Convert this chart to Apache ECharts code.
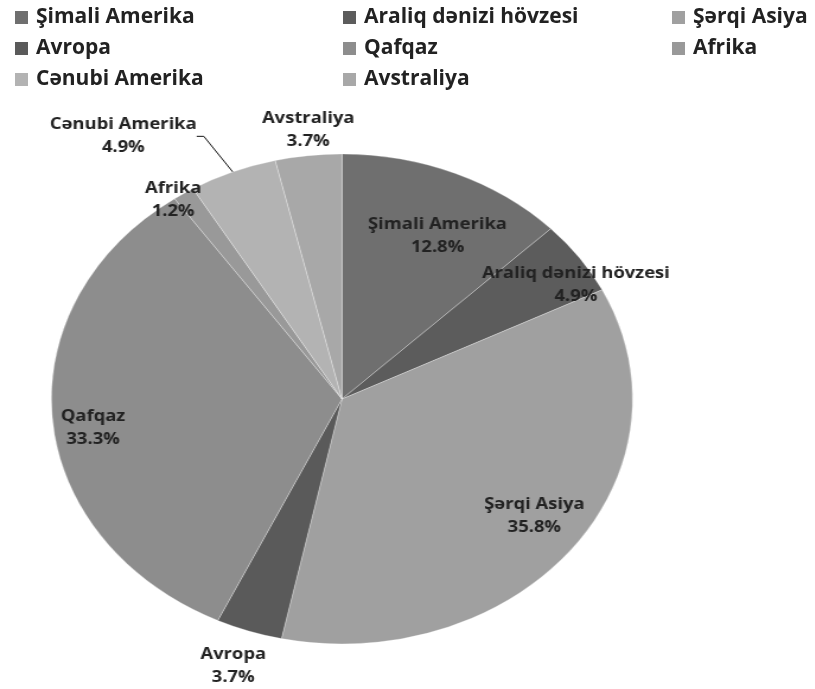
<!DOCTYPE html>
<html>
<head>
<meta charset="utf-8">
<script src="https://cdn.jsdelivr.net/npm/echarts@6/dist/echarts.min.js"></script>
<style>
html,body{margin:0;padding:0;background:#fff;overflow:hidden;width:815px;height:689px;}
#leg{position:absolute;left:0;top:0;width:815px;height:689px;}
#pie{position:absolute;left:0;top:0;width:688px;height:689px;transform:scaleX(1.186);transform-origin:0 0;}
</style>
</head>
<body>
<div id="leg"></div>
<div id="pie"></div>
<script>
// ---- data ----
const categories = ['Şimali Amerika', 'Araliq dənizi hövzesi', 'Şərqi Asiya', 'Avropa', 'Qafqaz', 'Afrika', 'Cənubi Amerika', 'Avstraliya'];
const values = [12.8, 4.9, 35.8, 3.7, 33.3, 1.2, 4.9, 3.7];
const legendCol1 = ['Şimali Amerika', 'Avropa', 'Cənubi Amerika'];
const legendCol2 = ['Araliq dənizi hövzesi', 'Qafqaz', 'Avstraliya'];
const legendCol3 = ['Şərqi Asiya', 'Afrika'];

// ---- styles ----
const colors = ['#6f6f6f', '#5c5c5c', '#a0a0a0', '#5a5a5a', '#8d8d8d', '#999999', '#b3b3b3', '#a8a8a8'];
// label placement: [radius factor, angle shift in degrees] relative to slice mid-angle
const labelPlace = [[0.74, 3.4], [0.93, 5.2], [0.816, -2], [1.152, 0.3], [0.865, -3], [1.0, -2.5], [1.31, -13], [1.104, 0.6]];
const SX = 1.186;
const CX = 342 / SX, CY = 399, R = 245;
const FONT = "'Open Sans', 'DejaVu Sans', sans-serif";

const total = values.reduce((a, b) => a + b, 0);
const midAngles = [];
{ let cum = 0; values.forEach(v => { midAngles.push((cum + v / 2) / total * 360); cum += v; }); }

const dataItems = categories.map((name, i) => {
  const item = { name: name, value: values[i], itemStyle: { color: colors[i] } };
  if (name === 'Cənubi Amerika') {
    item.label = { position: 'outside' };
    item.labelLine = { show: true, length: 40, length2: 6, lineStyle: { color: '#111', width: 1 } };
  }
  return item;
});

// ---- legend chart (unscaled) ----
const legChart = echarts.init(document.getElementById('leg'), null, { renderer: 'canvas' });
const legText = { fontFamily: FONT, fontWeight: 'bold', fontSize: 21, lineHeight: 20, color: '#222', padding: [0, 0, 0, 3] };
function mkLegend(data, left) {
  return { data: data, left: left, top: 7, orient: 'vertical', padding: 0, itemGap: 10, itemWidth: 13, itemHeight: 13,
    icon: 'rect', selectedMode: false, textStyle: legText };
}
legChart.setOption({
  animation: false,
  legend: [mkLegend(legendCol1, 15), mkLegend(legendCol2, 343), mkLegend(legendCol3, 672)],
  series: [{ type: 'pie', radius: 0, center: [-50, -50], silent: true, label: { show: false }, labelLine: { show: false },
    data: categories.map((name, i) => ({ name: name, value: values[i], itemStyle: { color: colors[i] } })) }]
});

// ---- pie chart (stretched horizontally to form the ellipse) ----
const pieChart = echarts.init(document.getElementById('pie'), null, { renderer: 'canvas' });
pieChart.setOption({
  animation: false,
  series: [{
    type: 'pie',
    center: [CX, CY],
    radius: R,
    startAngle: 90,
    clockwise: true,
    avoidLabelOverlap: false,
    silent: true,
    itemStyle: { borderColor: 'rgba(255,255,255,0.35)', borderWidth: 0.8 },
    label: {
      show: true, position: 'inside',
      formatter: p => p.name + '\n' + p.value + '%',
      fontFamily: FONT, fontWeight: 'bold', fontSize: 15.5, lineHeight: 23, color: '#222'
    },
    labelLine: { show: false },
    labelLayout: function (params) {
      const i = params.dataIndex;
      const pl = labelPlace[i];
      if (!pl) return {};
      const th = (midAngles[i] + pl[1]) * Math.PI / 180;
      return { x: CX + pl[0] * R * Math.sin(th), y: CY - pl[0] * R * Math.cos(th), align: 'center', verticalAlign: 'middle' };
    },
    data: dataItems
  }]
});
</script>
</body>
</html>
